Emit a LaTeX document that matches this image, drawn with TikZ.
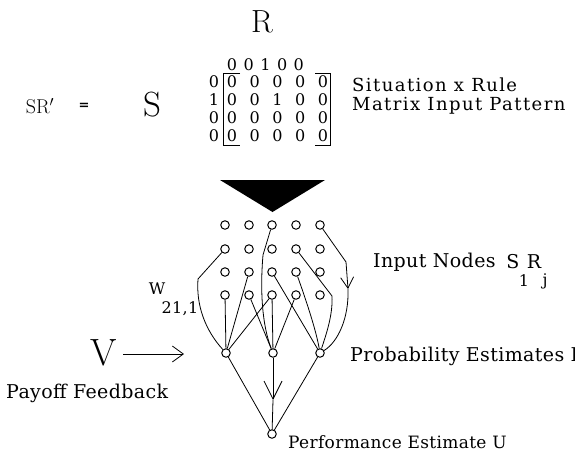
\documentclass[tikz,border=0pt]{standalone}
\usepackage{fontspec}
\newfontfamily\lab[LetterSpace=2]{DejaVu Serif}
\newfontfamily\labwide[LetterSpace=8]{DejaVu Serif}
\newfontfamily\digitfont{DejaVu Serif}
\usetikzlibrary{arrows.meta}
\begin{document}
\begin{tikzpicture}[x=1pt,y=-1pt,
  unit/.style={circle,draw,line width=1pt,minimum size=8.5pt,inner sep=0pt},
  link/.style={line width=0.8pt},
  txt/.style={font=\lab\fontsize{#1}{#1}\selectfont,inner sep=0pt},
  txt/.default=19,
  widetxt/.style={font=\labwide\fontsize{18}{18}\selectfont,inner sep=0pt},
  subtxt/.style={font=\lab\fontsize{16}{16}\selectfont,inner sep=0pt},
  digit/.style={font=\digitfont\fontsize{16}{16}\selectfont,inner sep=0pt},
  bigletter/.style={font=\fontsize{#1}{#1}\selectfont,inner sep=0pt},
  barb/.tip={Straight Barb[length=11pt,width=13pt,line width=0.8pt]},
  bigbarb/.tip={Straight Barb[length=18pt,width=18pt,line width=0.8pt]},
  vbarb/.tip={Straight Barb[length=11pt,width=16pt,line width=0.8pt]}
]
\useasboundingbox (0,0) rectangle (575,455);

% ---- top: matrix -------------------------------------------------
\node[bigletter=32] (R) at (262,22) {R};
\node[font=\fontsize{20}{20}\selectfont,inner sep=0pt] (SR) at (40,106) {SR$'$};
\node[font=\lab\bfseries\fontsize{13}{13}\selectfont,inner sep=0pt] (eq) at (84,106) {=};
\node[bigletter=35] (S) at (152,105) {S};

\foreach \d [count=\i] in {0,0,1,0,0}
  \node[digit] (h\i) at ({232+16.7*(\i-1)},65) {\d};
\foreach \d [count=\r] in {0,1,0,0}
  \node[digit] (s\r) at (214,{64+18*\r}) {\d};
\foreach \row [count=\r] in {{0,0,0,0,0},{0,0,1,0,0},{0,0,0,0,0},{0,0,0,0,0}}
  \foreach \d [count=\c] in \row
    \node[digit] (m\r\c) at ({232+22.75*(\c-1)},{64+18*\r}) {\d};

\draw[link] (240,73) -- (223,73) -- (223,145) -- (240,145);
\draw[link] (315,73) -- (330,73) -- (330,145) -- (315,145);

\node[widetxt,anchor=west] (sit) at (352,85) {Situation x Rule};
\node[widetxt,anchor=west] (mat) at (352,106) {Matrix Input Pattern};

\fill (220,180) -- (325,180) -- (272.5,212) -- cycle;

% ---- network ---------------------------------------------------------
\foreach \c/\x in {1/225,2/249,3/272,4/296,5/320}
  \foreach \r/\y in {1/225,2/249,3/272,4/295}
    \node[unit] (n\r\c) at (\x,\y) {};

\node[unit] (p1) at (226,353) {};
\node[unit] (p2) at (273,353) {};
\node[unit] (p3) at (320,353) {};
\node[unit] (u) at (272,434) {};

% to p1
\draw[link] (n21) -- (198,279) .. controls (196,305) and (205,330) .. (p1);
\draw[link] (n41) -- (p1);
\draw[link] (n32) -- (p1);
\draw[link] (n43) -- (p1);
% to p2
\draw[link] (n13) -- (263,255) .. controls (260,290) and (262,325) .. (p2);
\draw[link] (n42) -- (p2);
\draw[link] (n43) -- (p2);
\draw[link] (n44) -- (p2);
% to p3
\draw[link] (n33) -- (p3);
\draw[link] (n34) .. controls (306,300) and (316,330) .. (p3);
\draw[link] (n24) -- (332,296) .. controls (333,315) and (326,335) .. (p3);
\coordinate (k1) at (346,262);
\coordinate (k2) at (348,289);
\draw[link] (n15) -- (k1);
\draw[link,-barb] (k1) -- (k2);
\draw[link] (k2) .. controls (349,318) and (338,342) .. (p3);

% to u
\draw[link] (p1) -- (u);
\draw[link] (p3) -- (u);
\coordinate (m1) at (273,400);
\draw[link,-bigbarb] (p2) -- (m1);
\draw[link] (m1) -- (u);

% ---- labels ------------------------------------------------------------
\node[txt,anchor=west] (inp) at (373,262) {Input Nodes};
\node[txt] (s1) at (513,262) {S};
\node[txt] (r1) at (534,262) {R};
\node[subtxt] (s1i) at (524,281) {1};
\node[subtxt] (r1j) at (545,281) {j};

\node[subtxt] (W) at (157,289) {W};
\node[subtxt] (Wsub) at (180,309) {21,1};

\node[bigletter=38] (V) at (104,353) {V};
\coordinate (vs) at (123,354);
\coordinate (ve) at (184,354);
\draw[link,-vbarb] (vs) -- (ve);

\node[txt,anchor=west] (pay) at (6,393) {Payoff Feedback};
\node[txt,anchor=west] (prob) at (350,356) {Probability Estimates P};
\node[txt=17,anchor=west] (perf) at (288,442) {Performance Estimate U};
\end{tikzpicture}
\end{document}
